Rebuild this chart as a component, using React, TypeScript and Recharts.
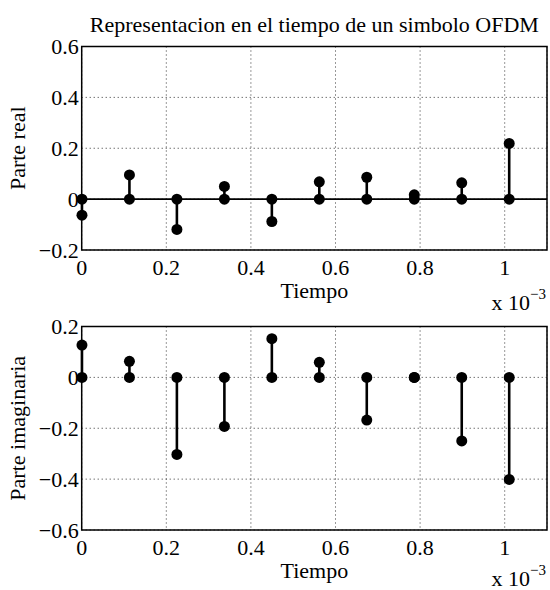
import { ComposedChart, Bar, XAxis, YAxis, CartesianGrid, ReferenceLine, ReferenceArea, Label } from 'recharts'

// tiempo en unidades de 1e-3 s
const tiempo = [0, 0.1122, 0.2244, 0.3367, 0.4489, 0.5611, 0.6733, 0.7856, 0.8978, 1.01]
const parteReal = [-0.063, 0.095, -0.119, 0.05, -0.088, 0.068, 0.086, 0.017, 0.064, 0.219]
const parteImag = [0.127, 0.063, -0.303, -0.193, 0.152, 0.059, -0.168, 0.0, -0.25, -0.401]

const xTicks = [0, 0.2, 0.4, 0.6, 0.8, 1]
const yTicksReal = [-0.2, 0, 0.2, 0.4, 0.6]
const yTicksImag = [-0.6, -0.4, -0.2, 0, 0.2]

const FONT = 'Liberation Serif, Tinos, Times New Roman, DejaVu Serif, serif'
const FS = 22
const tickStyle = { fontFamily: FONT, fontSize: FS, fill: '#000' }

const fmt = (v: number) => (v < 0 ? '\u2212' + String(Math.abs(v)) : String(v))

// stem: linea desde 0 hasta el valor, con un circulo en cada extremo
const Stem = (props: any) => {
  const { x, y, width, height } = props
  if (x == null || y == null) return null
  const cx = x + width / 2
  const y2 = y + (height || 0)
  return (
    <g>
      <line x1={cx} x2={cx} y1={y} y2={y2} stroke="#000" strokeWidth={2.6} />
      <circle cx={cx} cy={y} r={5.5} fill="#000" />
      <circle cx={cx} cy={y2} r={5.5} fill="#000" />
    </g>
  )
}

const StemPlot = ({ values, yTicks, yLabel, baseline, title, expY, h }: any) => {
  const data = tiempo.map((t, i) => ({ t, v: values[i] }))
  const lo = yTicks[0]
  const hi = yTicks[yTicks.length - 1]
  return (
    <ComposedChart width={550} height={h} data={data} margin={{ top: 46.5, right: 3, left: 0, bottom: h - 312 }}>
      <CartesianGrid stroke="#333" strokeDasharray="1 3" strokeWidth={1} />
      <XAxis
        type="number"
        dataKey="t"
        domain={[0, 1.1]}
        ticks={xTicks}
        tickFormatter={fmt}
        tick={tickStyle}
        tickLine={false}
        axisLine={false}
        tickSize={0}
        tickMargin={9}
        height={62}
      >
        <Label value="Tiempo" position="insideTop" offset={32} style={{ fontFamily: FONT, fontSize: FS, fill: '#000' }} />
      </XAxis>
      <YAxis
        type="number"
        domain={[lo, hi]}
        ticks={yTicks}
        tickFormatter={fmt}
        tick={tickStyle}
        tickLine={false}
        axisLine={false}
        tickSize={0}
        tickMargin={3}
        width={81.7}
      >
        <Label
          value={yLabel}
          angle={-90}
          position="insideLeft"
          offset={17.5}
          style={{ fontFamily: FONT, fontSize: FS, fill: '#000', textAnchor: 'middle' }}
        />
      </YAxis>
      <ReferenceArea x1={0} x2={1.1} y1={lo} y2={hi} fill="none" stroke="#000" strokeWidth={1.5} />
      {baseline && <ReferenceLine y={0} stroke="#000" strokeWidth={1.8} />}
      <Bar dataKey="v" barSize={10} shape={<Stem />} isAnimationActive={false} />
      {title && (
        <text x={314.4} y={32} textAnchor="middle" style={{ fontFamily: FONT, fontSize: FS, fill: '#000' }}>
          {title}
        </text>
      )}
      <text x={546} y={expY} textAnchor="end" style={{ fontFamily: FONT, fontSize: FS, fill: '#000' }}>
        x 10<tspan dy={-11} style={{ fontSize: 15 }}>{'\u22123'}</tspan>
      </text>
    </ComposedChart>
  )
}

export default function App() {
  return (
    <div style={{ position: 'absolute', left: 0, top: 0, width: 550, height: 590, background: '#fff' }}>
      <div style={{ position: 'absolute', left: 0, top: 0 }}>
        <StemPlot
          values={parteReal}
          yTicks={yTicksReal}
          yLabel="Parte real"
          baseline
          title="Representacion en el tiempo de un simbolo OFDM"
          expY={310}
          h={322}
        />
      </div>
      <div style={{ position: 'absolute', left: 0, top: 280 }}>
        <StemPlot values={parteImag} yTicks={yTicksImag} yLabel="Parte imaginaria" expY={306} h={312} />
      </div>
    </div>
  )
}
